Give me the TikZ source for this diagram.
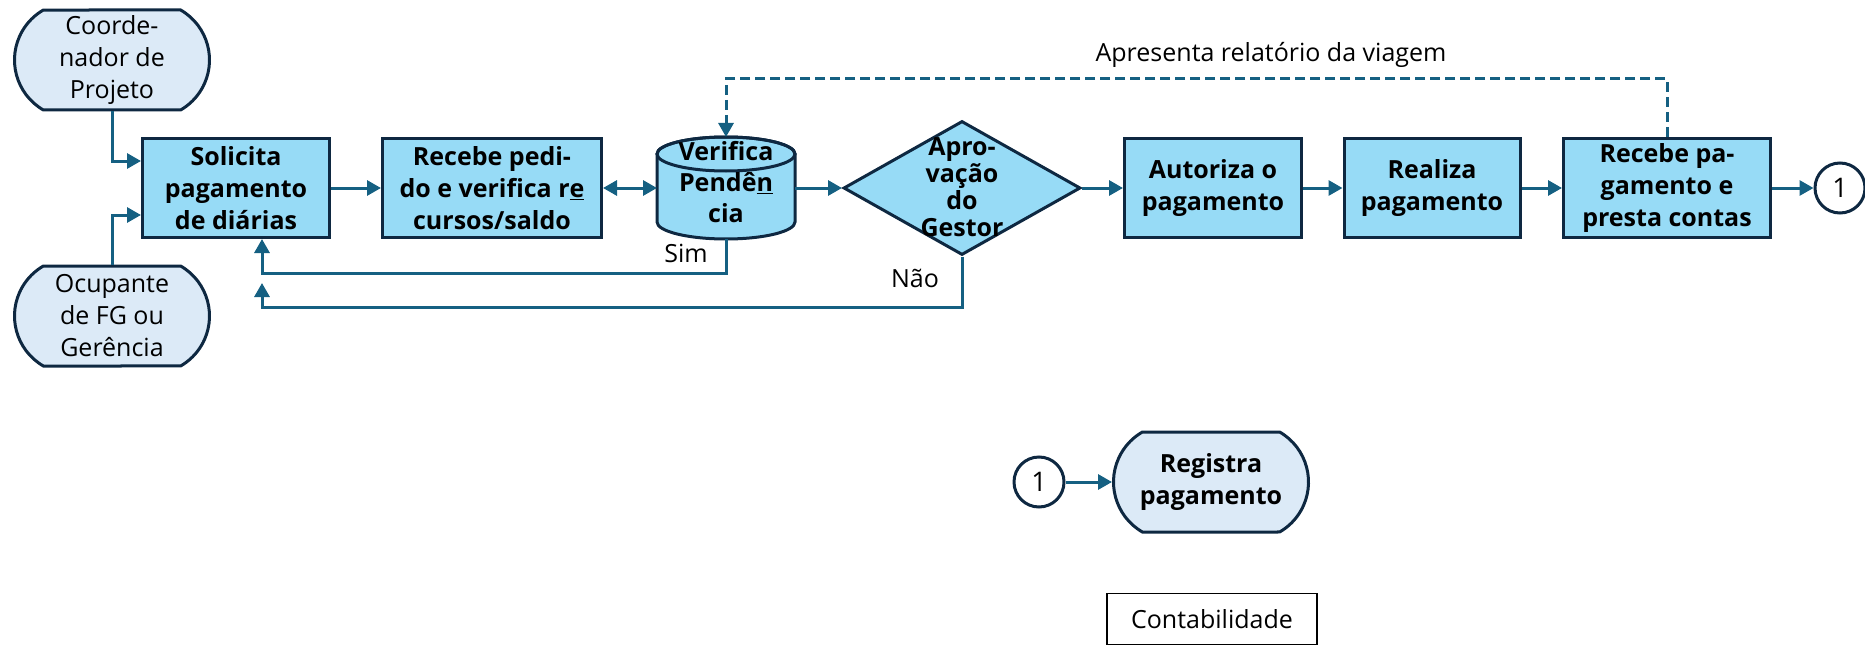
\documentclass[tikz,border=0pt]{standalone}
\usepackage{fontspec}
\setmainfont{Open Sans}
\usetikzlibrary{arrows.meta, shapes.geometric, shapes.misc}

\definecolor{linenavy}{HTML}{0E2841}
\definecolor{arrowblue}{HTML}{156082}
\definecolor{procfill}{HTML}{97DBF6}
\definecolor{termfill}{HTML}{DCEAF7}

\begin{document}
\begin{tikzpicture}[x=1pt, y=1pt,
  font=\fontsize{25}{32}\selectfont,
  >={Triangle[length=14pt,width=15pt]},
  conn/.style={draw=arrowblue, line width=3pt},
  proc/.style={rectangle, draw=linenavy, line width=3pt, fill=procfill, align=center,
    inner sep=0pt, minimum height=99pt, font=\bfseries\fontsize{25}{32}\selectfont},
  term/.style={rounded rectangle, rounded rectangle arc length=120, draw=linenavy,
    line width=3pt, fill=termfill, align=center, inner sep=0pt,
    minimum width=195pt, minimum height=100pt},
  conector/.style={circle, draw=linenavy, line width=3pt, minimum size=50pt,
    inner sep=0pt, font=\fontsize{27}{30}\selectfont}]
\useasboundingbox (0,0) rectangle (1865,-650);

% lado esquerdo
\node[term] (coord) at (112,-60) {Coorde-\\nador de\\Projeto};
\node[term] (ocup) at (112,-316) {Ocupante\\de FG ou\\Gerência};

% linha principal
\node[proc, minimum width=187pt] (solic) at (236,-188) {Solicita\\pagamento\\de diárias};
\node[proc, minimum width=219pt] (receb) at (492,-188) {Recebe pedi-\\do e verifica r\underline{e}\\cursos/saldo};
\node[minimum width=138pt, minimum height=102pt, inner sep=0pt, outer sep=0pt] (verif) at (726,-188) {};
\draw[draw=linenavy, line width=3pt, fill=procfill] ([yshift=-17pt]verif.north west)
  -- ([yshift=17pt]verif.south west) arc[start angle=180, end angle=360, x radius=69, y radius=17]
  -- ([yshift=-17pt]verif.north east) arc[start angle=0, end angle=180, x radius=69, y radius=17] -- cycle;
\draw[draw=linenavy, line width=3pt] ([yshift=-17pt]verif.north) ellipse[x radius=69, y radius=17];
\node[align=center, font=\bfseries\fontsize{25}{31}\selectfont] (veriftxt) at (726,-182) {Verifica\\Pendê\underline{n}\\cia};
\node[diamond, draw=linenavy, line width=3pt, fill=procfill, minimum width=237pt,
  minimum height=134pt, inner sep=0pt] (aprov) at (962,-188) {};
\node[align=center, font=\bfseries\fontsize{25}{27}\selectfont] (aprovtxt) at (962,-187) {Apro-\\vação\\do\\Gestor};
\node[proc, minimum width=177pt] (autor) at (1213,-188) {Autoriza o\\pagamento};
\node[proc, minimum width=176pt] (realiz) at (1432,-188) {Realiza\\pagamento};
\node[proc, minimum width=207pt] (recpa) at (1667,-188) {Recebe pa-\\gamento e\\presta contas};
\node[conector] (c1) at (1840,-188) {1};

% contabilidade
\node[conector] (c1b) at (1039,-482) {1};
\node[term, font=\bfseries\fontsize{25}{32}\selectfont] (regist) at (1211,-482) {Registra\\pagamento};
\node[draw=black, line width=1.3pt, minimum width=210pt, minimum height=51pt] (contab) at (1212,-619) {Contabilidade};

% rotulos
\node[anchor=base] (apres) at (1271,-62) {Apresenta relatório da viagem};
\node[anchor=base] (sim) at (686,-262) {Sim};
\node[anchor=base] (nao) at (915,-287) {Não};

% conectores
\draw[conn,->] (coord.south) |- ([yshift=27pt]solic.west);
\draw[conn,->] (ocup.north) |- ([yshift=-27pt]solic.west);
\foreach \a/\b in {solic/receb,verif/aprov,aprov/autor,autor/realiz,realiz/recpa,recpa/c1,c1b/regist}
  \draw[conn,->] (\a.east) -- (\b.west);
\draw[conn,<->] (receb.east) -- (verif.west);
\draw[conn,->,dash pattern=on 10pt off 5pt] (recpa.north) -- ++(0,58) -| (verif.north);
\draw[conn,->] (verif.south) -- ++(0,-34) -| ([xshift=26pt]solic.south);
\coordinate (naoend) at (262,-283);
\draw[conn,->] (aprov.south) -- ++(0,-51) -| (naoend);
\end{tikzpicture}
\end{document}
